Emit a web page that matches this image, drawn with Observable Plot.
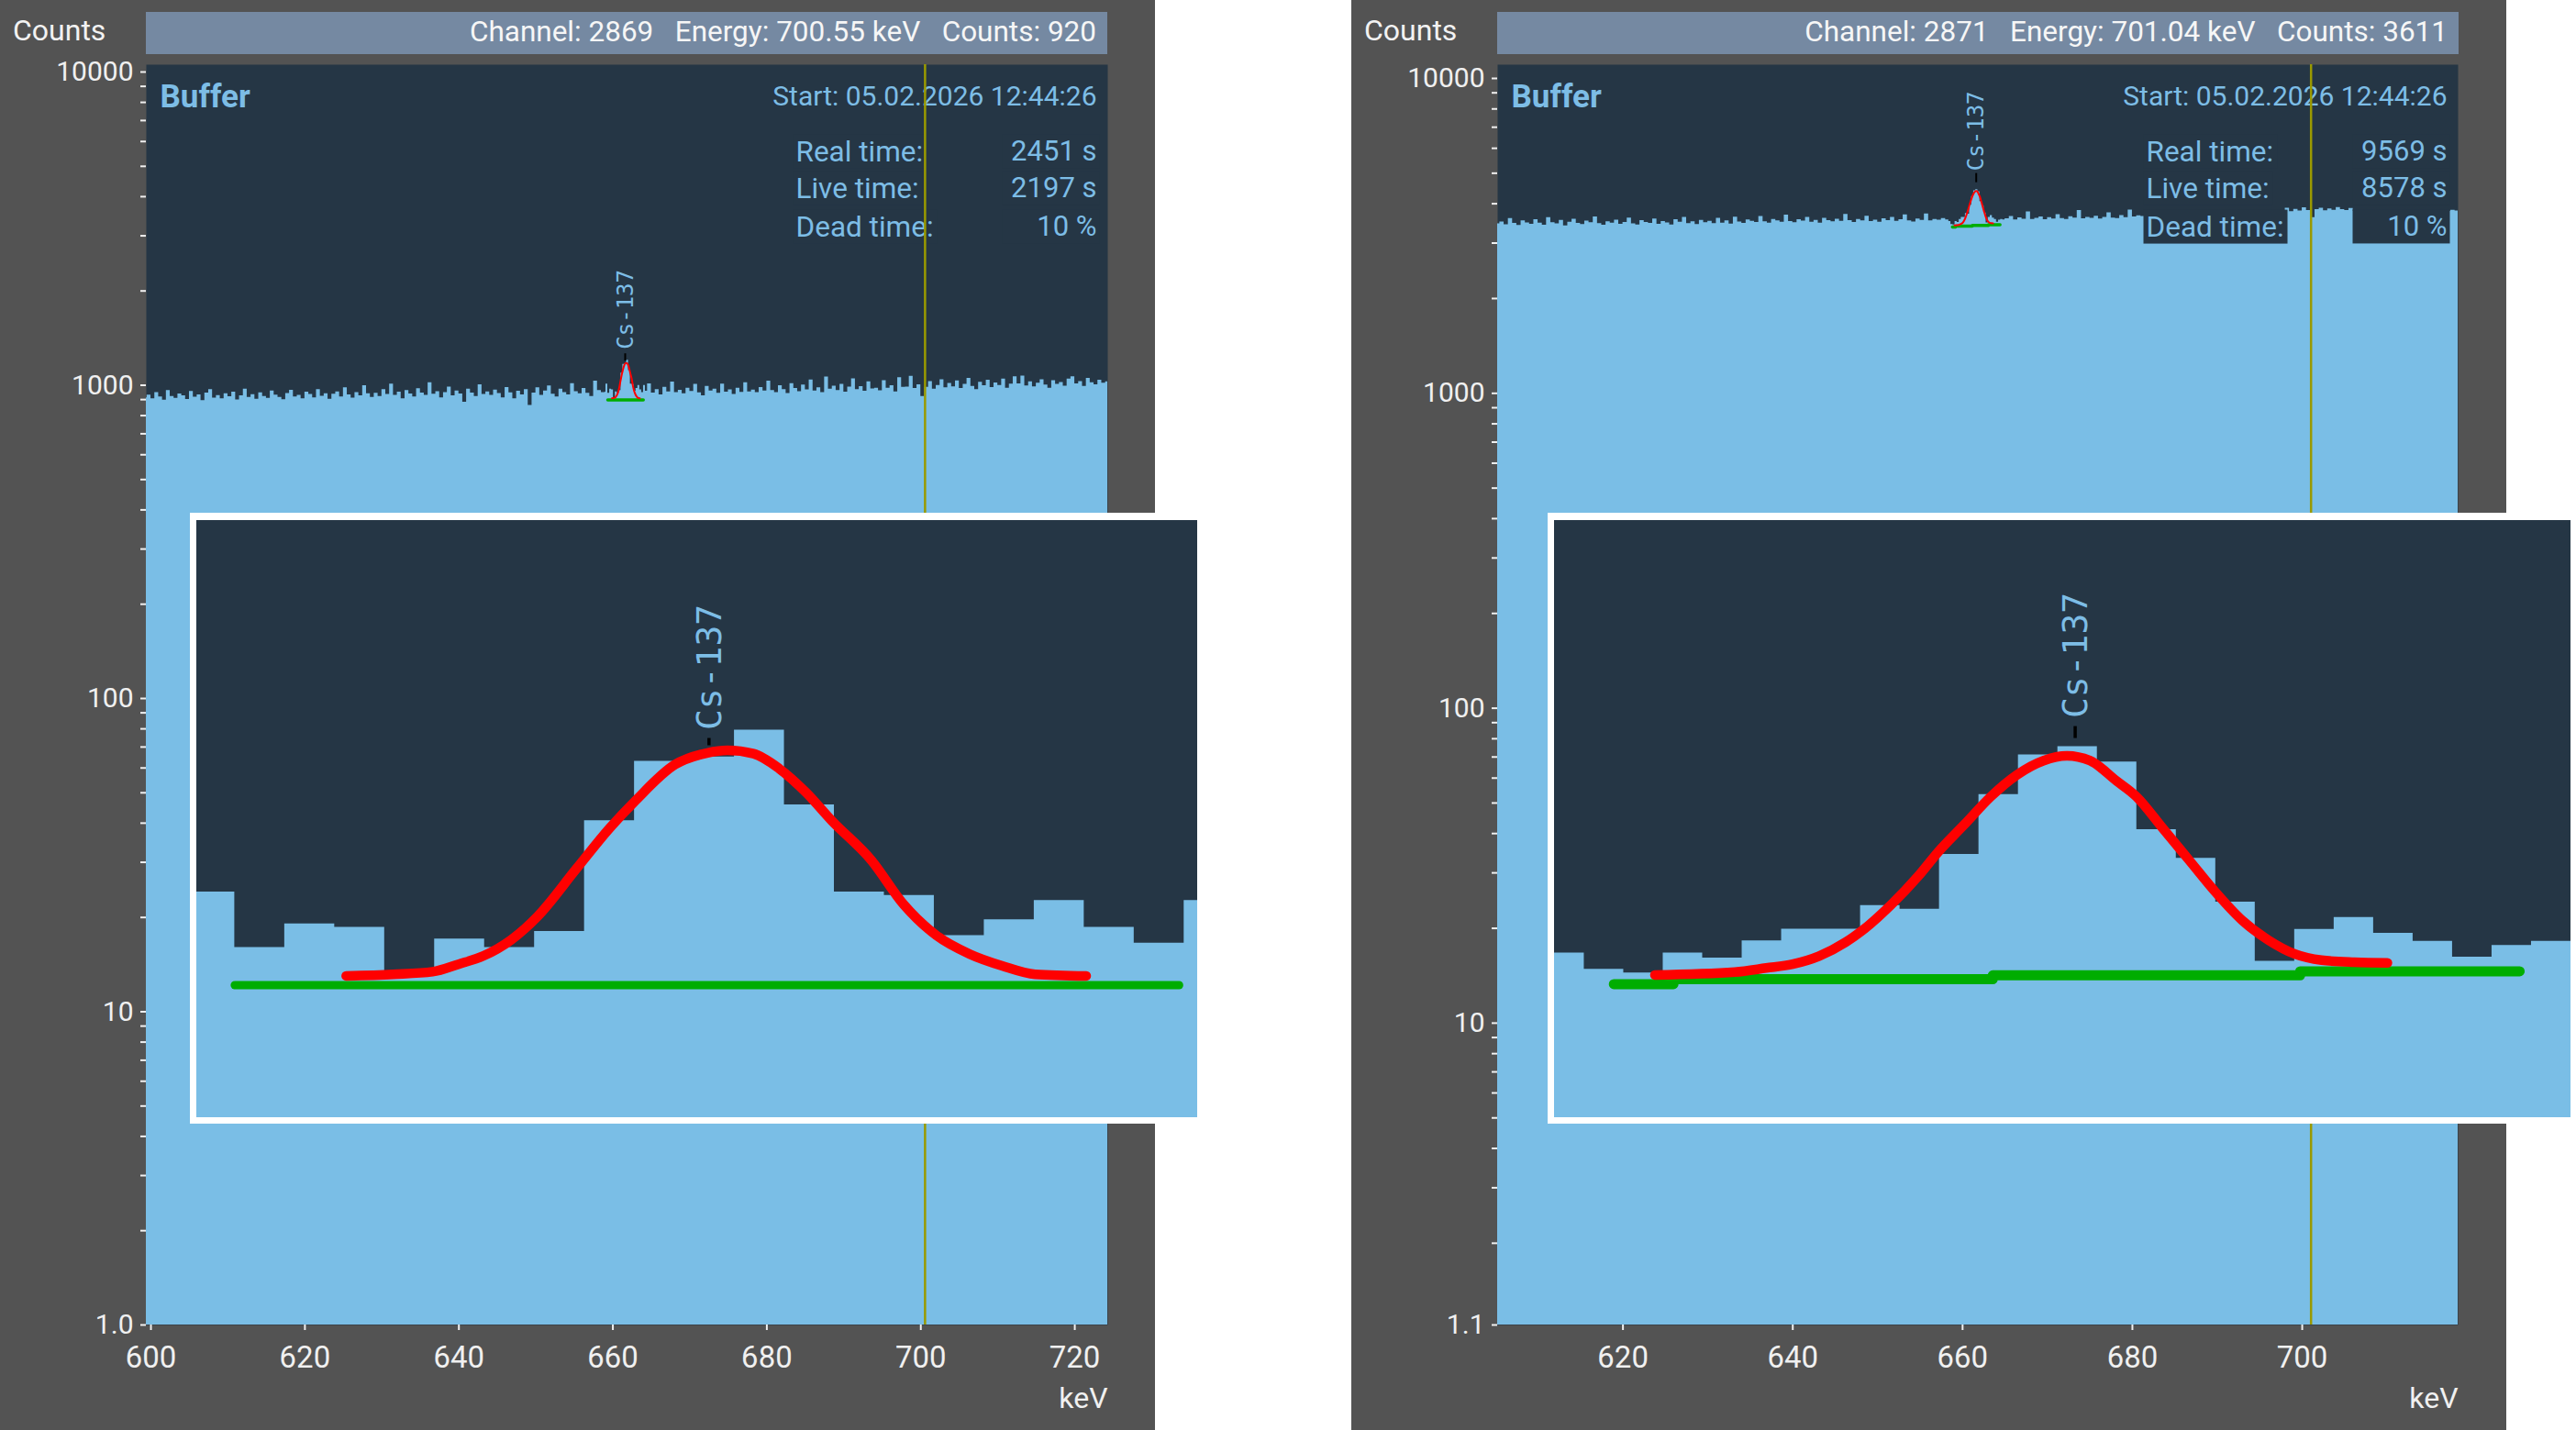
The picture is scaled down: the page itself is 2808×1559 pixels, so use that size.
<!DOCTYPE html>
<html><head><meta charset="utf-8">
<script src="https://cdn.jsdelivr.net/npm/d3@7"></script>
<script src="https://cdn.jsdelivr.net/npm/@observablehq/plot@0.6"></script>
<style>
html,body{margin:0;padding:0;background:#fff;}
body{position:relative;width:2808px;height:1559px;overflow:hidden;font-family:Roboto,"Open Sans",sans-serif;}
.panel{position:absolute;top:0;width:1259px;height:1559px;background:#535353;}
.panel svg{position:absolute;left:0;top:0;}
.counts{position:absolute;left:14px;top:13px;color:#f2f2f2;font-size:32px;line-height:40px;}
.hdr{position:absolute;left:159px;top:13px;width:1048px;height:46px;background:#7589a2;color:#f6f6f6;font-size:31.5px;line-height:44px;text-align:right;box-sizing:border-box;padding-right:12px;white-space:pre;}
.inset{position:absolute;top:559px;height:666px;background:#fff;z-index:5;}
.inset svg{position:absolute;left:7px;top:8px;}
</style></head>
<body>
<div id="root"></div>
<script>
// ---------------- DATA ----------------
const yAxisTitle = "Counts";
const xAxisTitle = "keV";
const peakName = "Cs-137";
const peakKeV = 661.66;
const channelKeV = 0.2442;
const startText = "Start: 05.02.2026 12:44:26";
const spectrumName = "Buffer";
const statLabels = ["Real time:", "Live time:", "Dead time:"];
const leftStatValues = ["2451 s", "2197 s", "10 %"];
const rightStatValues = ["9569 s", "8578 s", "10 %"];
const leftHeader = ["Channel: 2869", "Energy: 700.55 keV", "Counts: 920"];
const rightHeader = ["Channel: 2871", "Energy: 701.04 keV", "Counts: 3611"];
const leftCursorKeV = 700.55;
const rightCursorKeV = 701.04;
const leftXTicks = [600, 620, 640, 660, 680, 700, 720];
const rightXTicks = [620, 640, 660, 680, 700];
const leftYTicks = [1, 10, 100, 1000, 10000];
const rightYTicks = [1.1, 10, 100, 1000, 10000];
const leftXDomain = [599.4, 724.28];
const rightXDomain = [605.24, 718.36];
const leftYDomain = [1, 10554];
const rightYDomain = [1.1, 11058];

// main spectra, 0.5 keV steps
const leftStartKeV = 599.0;
const rightStartKeV = 605.0;
const stepKeV = 0.5;
const leftCounts = [
912,930,905,948,918,896,962,921,909,938,
925,901,955,916,931,893,944,968,910,927,
905,939,919,951,897,926,972,914,933,902,
946,921,908,958,930,915,899,941,964,917,
928,906,950,934,912,969,923,940,903,936,
952,918,981,931,910,947,926,996,939,915,
943,921,968,934,1008,929,951,906,962,938,
917,975,944,929,1019,936,954,911,947,987,
926,958,938,882,971,944,920,1003,935,952,
929,966,941,912,983,946,905,957,932,968,
862,944,981,929,958,995,937,918,972,948,
931,1012,954,939,976,943,921,1031,962,947,
950,948,955,960,958,962,955,950,948,952,
957,1011,944,968,931,985,952,1024,947,963,
939,978,955,1007,946,926,991,958,972,943,
1008,951,967,935,978,949,1019,952,966,948,
983,958,1031,962,947,996,969,941,1012,976,
954,1002,967,1039,958,981,948,1063,971,993,
962,1007,950,986,1048,969,990,957,1025,974,
978,961,1034,979,996,953,1058,985,987,1068,
976,1003,920,985,1027,972,998,1041,981,1014,
989,1032,976,1007,1051,992,969,1023,996,1038,
984,1017,999,1046,978,1008,1064,1011,1069,995,
1026,988,1015,1042,1001,979,1034,1006,1021,993,
1047,1065,1010,1028,991,1052,1019,1004,1038,1016,
1025,1000];
const rightCounts = [
3452,3498,3431,3587,3466,3412,3529,3478,3445,3561,
3470,3421,3612,3483,3454,3539,3402,3496,3571,3463,
3437,3525,3480,3634,3459,3418,3507,3472,3548,3441,
3489,3603,3456,3427,3534,3491,3468,3579,3445,3512,
3476,3423,3558,3497,3619,3462,3505,3438,3542,3485,
3516,3459,3597,3472,3531,3448,3627,3503,3468,3556,
3521,3489,3642,3507,3472,3568,3530,3496,3681,3512,
3483,3559,3526,3618,3497,3541,3470,3594,3533,3505,
3572,3516,3702,3538,3491,3563,3527,3649,3510,3548,
3496,3585,3534,3622,3519,3557,3688,3528,3502,3576,
3541,3715,3532,3568,3547,3590,3555,3560,3570,3558,
3560,3565,3570,3575,3580,3572,3568,3565,3603,3556,
3582,3645,3551,3607,3573,3768,3566,3598,3629,3557,
3614,3578,3692,3589,3563,3637,3601,3805,3584,3620,
3596,3653,3575,3618,3742,3604,3587,3671,3612,3817,
3630,3661,3645,3702,3668,3637,3690,3655,3712,3676,
3649,3697,3681,3720,3664,3705,3688,3731,3670,3714,
3695,3726,3683,3748,3709,3736,3698,3757,3722,3741,
3718,3764,3739,3782,3751,3796,3868,3773,3841,3792,
3885,3806,3611,3829,3872,3798,3851,3816,3893,3834,
3807,3862,3790,3745,3772,3758,3781,3766,3794,3760,
3777,3789,3752,3801,3768,3785,3773,3796,3761,3788,
3779,3792,3770,3804,3786,3812,3795,3808];

// per-channel counts around the peak (channel -1 first)
const insetFirstChannel = -1;
const leftPeakChannel = 9.5;
const rightPeakChannel = 12.45;
const leftChannelCounts = [1009,943,971,967,909,953,943,962,1094,1165,1170,1202,1113,1009,1005,957,976,999,967,948,999];
const rightChannelCounts = [3512,3439,3423,3512,3489,3566,3619,3619,3724,3708,3953,4220,4398,4434,4366,4063,3935,3739,3475,3617,3671,3600,3564,3493,3546,3564];
// fitted peak
const leftFitChannel = [2.23,3.17,3.96,4.48,4.98,5.53,6.06,6.84,7.50,8.02,8.81,9.46,9.86,10.38,10.90,11.43,11.95,12.74,13.39,14.05,14.71,15.36,16.02,17.04];
const leftFitCounts = [909,911,914,923,933,952,980,1037,1085,1118,1161,1175,1178,1174,1156,1128,1094,1047,994,957,935,921,911,909];
const rightFitChannel = [1.79,3.82,4.61,5.28,5.95,6.62,7.12,7.79,8.46,8.96,9.63,10.30,10.97,11.64,12.23,12.81,13.48,13.99,14.66,15.33,16.00,16.67,17.34,18.01,18.68,19.51,20.35];
const rightFitCounts = [3414,3427,3445,3462,3498,3560,3623,3730,3855,3962,4086,4211,4309,4372,4393,4372,4282,4211,4069,3926,3783,3658,3569,3507,3480,3471,3468];
// baselines
const leftBaseChannel = [0, 18.9];
const leftBaseCounts = [898, 898];
const rightBaseChannel = [0.75, 2.26, 10.35, 18.14, 23.70];
const rightBaseCounts = [3373, 3395, 3412, 3430, 3430];
// inset views
const leftInsetX = [-0.76, 19.27];
const leftInsetY = [740, 1452];
const rightInsetX = [-0.754, 25.0];
const rightInsetY = [2776, 5445];

// ---------------- STYLE ----------------
const C = {
  panel: "#535353", plotBg: "#253645", fill: "#7abee6", text: "#7dbde6",
  axis: "#f0f0f0", red: "#ff0000", green: "#00ad00", cursor: "#9a9a00"
};
const NS = "http://www.w3.org/2000/svg";

function peakTick(xv, yv, from, to, w) {
  return (index, scales) => {
    const x = scales.x(xv), y = scales.y(yv);
    const l = document.createElementNS(NS, "line");
    l.setAttribute("x1", x); l.setAttribute("x2", x);
    l.setAttribute("y1", y + from); l.setAttribute("y2", y + to);
    l.setAttribute("stroke", "#000"); l.setAttribute("stroke-width", w);
    return l;
  };
}

function buildSteps(start, counts, peakCh, chCounts) {
  const chKeV = ch => peakKeV + (ch - peakCh) * channelKeV;
  const a = chKeV(insetFirstChannel);
  const b = chKeV(insetFirstChannel + chCounts.length);
  const pts = [];
  counts.forEach((v, i) => { const x = start + i * stepKeV; if (x < a) pts.push({x, y: v}); });
  chCounts.forEach((v, k) => pts.push({x: chKeV(insetFirstChannel + k), y: v}));
  pts.push({x: b, y: counts[Math.floor((b - start) / stepKeV)]});
  counts.forEach((v, i) => { const x = start + i * stepKeV; if (x > b) pts.push({x, y: v}); });
  pts.push({x: start + counts.length * stepKeV, y: counts[counts.length - 1]});
  return pts;
}

function mainPanel(cfg) {
  const chKeV = ch => peakKeV + (ch - cfg.peakCh) * channelKeV;
  const pts = buildSteps(cfg.start, cfg.counts, cfg.peakCh, cfg.chCounts);
  const fit = cfg.fitCh.map((c, i) => ({x: chKeV(c), y: cfg.fitCounts[i]}));
  const base = cfg.baseCh.map((c, i) => ({x: chKeV(c), y: cfg.baseCounts[i]}));
  const fitMax = d3.max(cfg.fitCounts);
  const minor = [];
  for (const dec of [1, 10, 100, 1000]) for (let m = 2; m <= 9; m++) {
    const v = m * dec; if (v > cfg.yDomain[0] && v < cfg.yDomain[1]) minor.push(v);
  }
  const fmt = d => d < 2 ? d.toFixed(1) : String(d);
  const rows = [95, 135, 177];
  const statMarks = [];
  rows.forEach((dy, i) => {
    statMarks.push(Plot.text([statLabels[i]], {frameAnchor: "top-right", dx: -340, dy, textAnchor: "start", lineAnchor: "middle", fill: C.text, fontSize: 31.5}));
    statMarks.push(Plot.text([cfg.stats[i]], {frameAnchor: "top-right", dx: -12, dy, textAnchor: "end", lineAnchor: "middle", fill: C.text, fontSize: 31}));
  });
  return Plot.plot({
    width: 1259, height: 1559,
    marginLeft: 159, marginRight: cfg.marginRight, marginTop: 70, marginBottom: 115,
    x: {domain: cfg.xDomain},
    y: {type: "log", domain: cfg.yDomain},
    style: {background: "transparent", color: C.axis, fontFamily: "Roboto", fontSize: "33px"},
    marks: [
      Plot.frame({fill: C.plotBg, stroke: "none"}),
      Plot.areaY(pts, {x: "x", y1: cfg.yDomain[0], y2: "y", curve: "step-after", fill: C.fill, clip: true}),
      Plot.line(base, {x: "x", y: "y", stroke: C.green, strokeWidth: 3.5, curve: cfg.baseCurve}),
      Plot.line(fit, {x: "x", y: "y", stroke: C.red, strokeWidth: 2, curve: "monotone-x"}),
      peakTick(peakKeV, fitMax, cfg.tickFrom, cfg.tickTo, 2),
      Plot.text([peakName], {x: () => peakKeV, y: () => fitMax, rotate: -90, textAnchor: "start", lineAnchor: "middle", dy: cfg.labelDy, fill: C.text, fontSize: 24, fontFamily: "DejaVu Sans Mono"}),
      Plot.axisY({ticks: cfg.yTicks, tickFormat: fmt, tickSize: 6, tickPadding: 8, strokeWidth: 2, fontSize: 30, label: null}),
      Plot.axisY({ticks: minor, tickFormat: () => "", tickSize: 6, strokeWidth: 2, label: null}),
      Plot.axisX({ticks: cfg.xTicks, tickSize: 6, tickPadding: 17, strokeWidth: 2, label: null}),
      Plot.text([xAxisTitle], {frameAnchor: "bottom-right", dy: 80, textAnchor: "end", lineAnchor: "middle", fill: C.axis, fontSize: 32}),
      Plot.text([spectrumName], {frameAnchor: "top-left", dx: 15, dy: 35, textAnchor: "start", lineAnchor: "middle", fill: C.text, fontSize: 35, fontWeight: "bold"}),
      Plot.text([startText], {frameAnchor: "top-right", dx: -12, dy: 35, textAnchor: "end", lineAnchor: "middle", fill: C.text, fontSize: 30}),
      ...statMarks,
      Plot.ruleX([cfg.cursor], {stroke: C.cursor, strokeWidth: 2.5})
    ]
  });
}

function insetPanel(cfg) {
  const bins = cfg.chCounts.map((v, k) => ({x: insetFirstChannel + k, y: v}));
  bins.push({x: insetFirstChannel + cfg.chCounts.length, y: cfg.chCounts[cfg.chCounts.length - 1]});
  const fit = cfg.fitCh.map((c, i) => ({x: c, y: cfg.fitCounts[i]}));
  const base = cfg.baseCh.map((c, i) => ({x: c, y: cfg.baseCounts[i]}));
  const fitMax = d3.max(cfg.fitCounts);
  return Plot.plot({
    width: cfg.width, height: 651, margin: 0,
    x: {domain: cfg.xDomain, axis: null},
    y: {domain: cfg.yDomain, axis: null},
    style: {background: C.plotBg},
    marks: [
      Plot.areaY(bins, {x: "x", y1: cfg.yDomain[0], y2: "y", curve: "step-after", fill: C.fill, clip: true}),
      Plot.line(base, {x: "x", y: "y", stroke: C.green, strokeWidth: cfg.baseWidth, strokeLinecap: "round", curve: cfg.baseCurve}),
      Plot.line(fit, {x: "x", y: "y", stroke: C.red, strokeWidth: 10.5, curve: "monotone-x"}),
      peakTick(cfg.peakCh, fitMax, cfg.tickFrom, cfg.tickTo, 3.5),
      Plot.text([peakName], {x: () => cfg.peakCh, y: () => fitMax, rotate: -90, textAnchor: "start", lineAnchor: "middle", dy: cfg.labelDy, fill: C.text, fontSize: 38, fontFamily: "DejaVu Sans Mono"})
    ]
  });
}

function addBoxes(svg, bg) {
  const labels = new Set(statLabels);
  const values = new Set([...leftStatValues, ...rightStatValues]);
  svg.querySelectorAll("text").forEach(t => {
    const s = t.textContent;
    if (!labels.has(s) && !values.has(s)) return;
    const b = t.getBBox();
    const r = document.createElementNS(NS, "rect");
    let x0 = b.x - 3, x1 = b.x + b.width + 4;
    if (values.has(s)) { x1 = b.x + b.width + 3; x0 = Math.min(x0, x1 - 106); }
    r.setAttribute("x", x0); r.setAttribute("y", b.y);
    r.setAttribute("width", x1 - x0); r.setAttribute("height", b.height);
    r.setAttribute("fill", bg);
    const tr = t.getAttribute("transform"); if (tr) r.setAttribute("transform", tr);
    t.parentNode.insertBefore(r, t);
  });
}

const root = document.getElementById("root");
function makePanel(left, cfg, header) {
  const div = document.createElement("div");
  div.className = "panel"; div.style.left = left + "px";
  root.appendChild(div);
  const svg = mainPanel(cfg);
  div.appendChild(svg);
  addBoxes(svg, C.plotBg);
  const t = document.createElement("div"); t.className = "counts"; t.textContent = yAxisTitle; div.appendChild(t);
  const h = document.createElement("div"); h.className = "hdr"; h.textContent = header.join("   "); div.appendChild(h);
}
function makeInset(left, width, cfg) {
  const div = document.createElement("div");
  div.className = "inset"; div.style.left = left + "px"; div.style.width = (width + 14) + "px";
  root.appendChild(div);
  div.appendChild(insetPanel({...cfg, width}));
}

makePanel(0, {
  start: leftStartKeV, counts: leftCounts, peakCh: leftPeakChannel, chCounts: leftChannelCounts,
  fitCh: leftFitChannel, fitCounts: leftFitCounts, baseCh: leftBaseChannel, baseCounts: leftBaseCounts,
  baseCurve: "linear", xDomain: leftXDomain, yDomain: leftYDomain, xTicks: leftXTicks, yTicks: leftYTicks,
  stats: leftStatValues, cursor: leftCursorKeV, marginRight: 52, tickFrom: -10, tickTo: -2, labelDy: -15
}, leftHeader);
makePanel(1473, {
  start: rightStartKeV, counts: rightCounts, peakCh: rightPeakChannel, chCounts: rightChannelCounts,
  fitCh: rightFitChannel, fitCounts: rightFitCounts, baseCh: rightBaseChannel, baseCounts: rightBaseCounts,
  baseCurve: "step-after", xDomain: rightXDomain, yDomain: rightYDomain, xTicks: rightXTicks, yTicks: rightYTicks,
  stats: rightStatValues, cursor: rightCursorKeV, marginRight: 53, tickFrom: -19, tickTo: -9, labelDy: -22
}, rightHeader);
makeInset(207, 1091, {
  chCounts: leftChannelCounts, fitCh: leftFitChannel, fitCounts: leftFitCounts,
  baseCh: leftBaseChannel, baseCounts: leftBaseCounts, baseCurve: "linear", baseWidth: 9,
  xDomain: leftInsetX, yDomain: leftInsetY, peakCh: leftPeakChannel, tickFrom: -13, tickTo: -5, labelDy: -22
});
makeInset(1687, 1108, {
  chCounts: rightChannelCounts, fitCh: rightFitChannel, fitCounts: rightFitCounts,
  baseCh: rightBaseChannel, baseCounts: rightBaseCounts, baseCurve: "step-after", baseWidth: 11,
  xDomain: rightInsetX, yDomain: rightInsetY, peakCh: rightPeakChannel, tickFrom: -32, tickTo: -19, labelDy: -41
});
</script>
</body></html>
